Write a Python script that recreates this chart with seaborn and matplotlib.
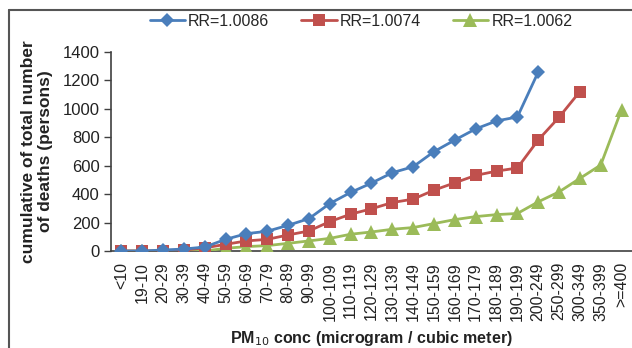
import numpy as np
import pandas as pd
import matplotlib.pyplot as plt
from matplotlib.lines import Line2D
import seaborn as sns

CATEGORIES = [
    "<10", "19-10", "20-29", "30-39", "40-49", "50-59", "60-69", "70-79",
    "80-89", "90-99", "100-109", "110-119", "120-129", "130-139", "140-149",
    "150-159", "160-169", "170-179", "180-189", "190-199", "200-249",
    "250-299", "300-349", "350-399", ">=400",
]
SERIES_NAMES = ["RR=1.0086", "RR=1.0074", "RR=1.0062"]
RR_1_0086 = [0, 0, 7, 14, 28, 82, 122, 139, 181, 228, 334, 412, 478, 551,
             593, 699, 781, 859, 915, 943, 1259]
RR_1_0074 = [0, 0, 0, 7, 22, 47, 71, 82, 113, 141, 207, 259, 297, 341, 365,
             428, 480, 532, 562, 584, 781, 941, 1122]
RR_1_0062 = [0, 0, 0, 0, 0, 19, 31, 38, 54, 71, 89, 118, 134, 153, 165, 193,
             221, 242, 256, 264, 346, 416, 511, 605, 995]

COLORS = {"RR=1.0086": "#4a7ebb", "RR=1.0074": "#c0504d", "RR=1.0062": "#9bbb59"}
MARKERS = {"RR=1.0086": ("D", 7.5), "RR=1.0074": ("s", 9), "RR=1.0062": ("^", 9.5)}

# long table, one row per point
frames = []
for name, vals in zip(SERIES_NAMES, [RR_1_0086, RR_1_0074, RR_1_0062]):
    frames.append(pd.DataFrame({"pos": np.arange(len(vals)), "deaths": vals, "series": name}))
df = pd.concat(frames, ignore_index=True)

sns.set_style("white")
plt.rcParams["font.family"] = ["Liberation Sans", "DejaVu Sans"]

fig = plt.figure(figsize=(6.32, 3.48), dpi=100)
ax = fig.add_axes([0.1756, 0.2787, 0.8244, 0.5719])

# draw green first so blue sits on top, like the original
for z, name in enumerate(reversed(SERIES_NAMES)):
    sub = df[df["series"] == name]
    mk, ms = MARKERS[name]
    sns.lineplot(data=sub, x="pos", y="deaths", ax=ax, color=COLORS[name],
                 marker=mk, markersize=ms, markeredgewidth=0, linewidth=2,
                 label=name, zorder=3 + z)

ax.set_xlim(-0.5, len(CATEGORIES) - 0.5)
ax.set_ylim(0, 1400)
ax.set_yticks(np.arange(0, 1401, 200))
ax.set_xticks(np.arange(len(CATEGORIES)))
ax.set_xticklabels(CATEGORIES, rotation=90)
ax.tick_params(axis="x", length=0, pad=8, labelsize=11.5, colors="#222222")
ax.tick_params(axis="y", left=True, length=5, width=1, pad=3, labelsize=12,
               colors="#222222", direction="out")
ax.tick_params(axis="y", color="#404040")

for side in ["top", "right"]:
    ax.spines[side].set_visible(False)
for side in ["left", "bottom"]:
    ax.spines[side].set_color("#404040")
    ax.spines[side].set_linewidth(1.2)

ax.set_xlabel("PM$_{10}$ conc (microgram / cubic meter)", fontsize=11.5,
              fontweight="bold", color="#222222", labelpad=6)
ax.set_ylabel("cumulative of total number\nof deaths (persons)", fontsize=12.5,
              fontweight="bold", color="#222222", linespacing=1.1)
ax.yaxis.set_label_coords(-0.112, 0.5)

handles, labels = ax.get_legend_handles_labels()
order = [labels.index(n) for n in SERIES_NAMES]
ax.legend([handles[i] for i in order], SERIES_NAMES, loc="center",
          bbox_to_anchor=(0.48, 1.155), ncol=3, frameon=False, fontsize=11.5,
          handlelength=2.2, handletextpad=0.2, columnspacing=2.0)

# outer frame, only top and left visible in the crop
fig.add_artist(Line2D([0.0142, 1.0], [0.971, 0.971], color="#555555", lw=1.5))
fig.add_artist(Line2D([0.0142, 0.0142], [0.0, 0.971], color="#555555", lw=1.5))

fig.savefig("out.png", dpi=100)
